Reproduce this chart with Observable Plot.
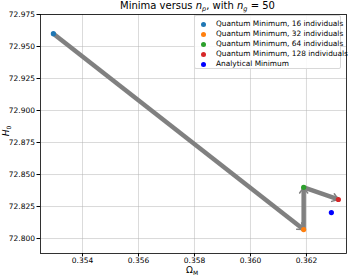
<!DOCTYPE html>
<html><head><meta charset="utf-8">
<script src="https://cdn.jsdelivr.net/npm/d3@7"></script>
<script src="https://cdn.jsdelivr.net/npm/@observablehq/plot@0.6"></script>
<style>
body{margin:0;background:#fff;font-family:"DejaVu Sans",sans-serif;}
#wrap{position:relative;width:349px;height:277px;}
#title{position:absolute;left:23px;width:349px;top:0;text-align:center;font-size:10px;line-height:12px;color:#000;}
#legend{position:absolute;left:194px;top:15px;width:147px;height:54px;box-sizing:border-box;border:1px solid #d8d8d8;border-radius:2px;background:rgba(255,255,255,0.85);font-size:7.4px;}
.li{position:absolute;left:0;height:10px;line-height:10px;white-space:nowrap;}
.dot{position:absolute;left:6px;top:2.5px;width:5px;height:5px;border-radius:50%;}
.lt{position:absolute;left:21px;top:0;}
#xl{position:absolute;top:266px;left:186px;font-size:9px;line-height:9px;white-space:nowrap;}
#yl{position:absolute;left:1px;top:126px;font-size:9px;line-height:10px;transform:rotate(-90deg);transform-origin:center;white-space:nowrap;}
sub{line-height:0;vertical-align:-2px;}
i{font-style:italic}
</style></head>
<body><div id="wrap"><div id="title"></div><div id="xl">Ω<sub style="font-size:6px">M</sub></div><div id="yl"><i>H</i><sub style="font-size:6px">0</sub></div><div id="legend"></div></div>
<script>
const labels = ["Quantum Minimum, 16 individuals","Quantum Minimum, 32 individuals","Quantum Minimum, 64 individuals","Quantum Minimum, 128 individuals","Analytical Minimum"];
const omegaM = [0.35296, 0.36190, 0.36190, 0.36314, 0.36289];
const H0 = [72.9600, 72.8070, 72.8400, 72.8305, 72.8203];
const colors = ["#1f77b4","#ff7f0e","#2ca02c","#d62728","#0000ff"];
const xTicks = [0.354,0.356,0.358,0.360,0.362];
const yTicks = [72.800,72.825,72.850,72.875,72.900,72.925,72.950,72.975];

const pts = labels.map((l,i)=>({label:l,x:omegaM[i],y:H0[i],c:colors[i]}));
const arrows = [0,1,2].map(i=>({x1:omegaM[i],y1:H0[i],x2:omegaM[i+1],y2:H0[i+1]}));

document.getElementById("title").innerHTML = "Minima versus <i>n<sub style='font-size:6.5px'>p</sub></i>, with <i>n<sub style='font-size:6.5px'>g</sub></i> = 50";

const plot = Plot.plot({
  width:349, height:277,
  marginLeft:40, marginRight:3, marginTop:14, marginBottom:24,
  style:{fontFamily:"DejaVu Sans", fontSize:"7.5px", color:"#000", background:"transparent"},
  x:{domain:[0.3525,0.36343], label:null},
  y:{domain:[72.7883,72.975], label:null},
  marks:[
    Plot.gridX(xTicks,{stroke:"#b0b0b0", strokeOpacity:0.6, strokeWidth:0.8}),
    Plot.gridY(yTicks,{stroke:"#b0b0b0", strokeOpacity:0.6, strokeWidth:0.8}),
    Plot.link(arrows,{x1:"x1",y1:"y1",x2:"x2",y2:"y2",stroke:"#808080",strokeWidth:4.5,strokeLinecap:"butt"}),
    Plot.arrow(arrows,{x1:"x1",y1:"y1",x2:"x2",y2:"y2",stroke:"#808080",strokeWidth:1.5,headLength:7,headAngle:70}),
    Plot.dot(pts,{x:"x",y:"y",fill:"c",r:2.6}),
    Plot.axisX(xTicks,{tickFormat:d3.format(".3f"),tickSize:3.5,tickPadding:0.5}),
    Plot.axisY(yTicks,{tickFormat:d3.format(".3f"),tickSize:3.5,tickPadding:2}),
    Plot.frame({stroke:"#000", strokeWidth:0.8})
  ]
});
plot.style.position="absolute"; plot.style.left="0"; plot.style.top="0";
const wrap = document.getElementById("wrap");
wrap.insertBefore(plot, wrap.firstChild);

const leg = document.getElementById("legend");
labels.forEach((l,i)=>{
  const d=document.createElement("div"); d.className="li"; d.style.top=(3+i*10)+"px";
  d.innerHTML=`<span class="dot" style="background:${colors[i]}"></span><span class="lt">${l}</span>`;
  leg.appendChild(d);
});
</script></body></html>
